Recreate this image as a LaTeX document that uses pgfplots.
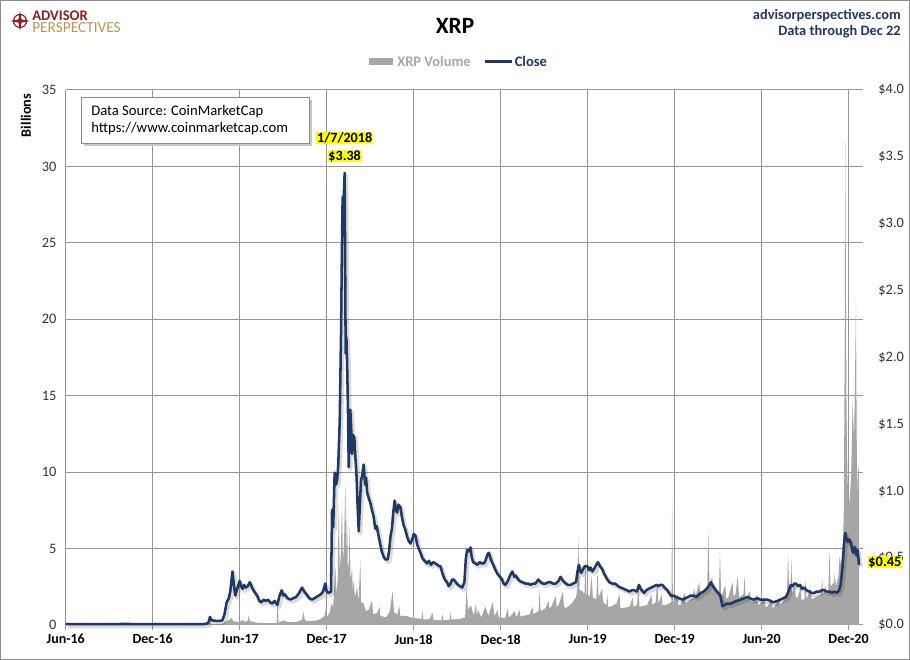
\documentclass[border=0pt]{standalone}
\usepackage{pgfplots}
\usepackage{pgfplotstable}
\pgfplotsset{compat=1.18}
\usepackage{fontspec}
\setmainfont{Carlito}
\definecolor{navy}{RGB}{31,56,100}
\definecolor{volgray}{RGB}{166,166,166}
\definecolor{gridgray}{RGB}{150,150,150}
\definecolor{apred}{RGB}{140,30,35}
\definecolor{apgold}{RGB}{185,150,80}
\definecolor{hl}{RGB}{255,255,0}
\definecolor{txt}{RGB}{50,50,50}

\pgfplotstableread{
m p
0 0.0065
2 0.0062
4 0.0075
6 0.0068
8 0.0065
9.5 0.007
9.7 0.009
9.85 0.02
9.95 0.06
10.05 0.035
10.3 0.032
10.6 0.03
10.8 0.035
10.95 0.08
11.1 0.17
11.25 0.2
11.35 0.25
11.5 0.40
11.6 0.30
11.7 0.22
11.85 0.28
12.0 0.33
12.1 0.29
12.2 0.27
12.3 0.30
12.4 0.28
12.55 0.29
12.7 0.32
12.85 0.28
13.0 0.25
13.2 0.22
13.35 0.18
13.5 0.17
13.65 0.19
13.8 0.18
13.95 0.19
14.1 0.17
14.25 0.16
14.4 0.18
14.6 0.15
14.75 0.22
14.9 0.26
15.0 0.22
15.1 0.23
15.3 0.20
15.5 0.19
15.7 0.20
15.9 0.21
16.1 0.24
16.3 0.28
16.45 0.25
16.6 0.23
16.8 0.20
17.0 0.19
17.15 0.20
17.3 0.21
17.45 0.22
17.6 0.23
17.75 0.25
17.9 0.31
18.0 0.25
18.15 0.24
18.3 0.25
18.37 0.86
18.45 0.73
18.55 1.14
18.65 1.05
18.72 1.08
18.8 1.2
18.9 1.53
18.99 2.18
19.05 2.8
19.1 3.2
19.17 3.18
19.24 3.38
19.31 2.03
19.36 2.15
19.41 1.96
19.47 1.6
19.52 1.18
19.57 1.45
19.63 1.61
19.7 1.45
19.75 1.28
19.83 1.42
19.91 1.40
19.98 1.25
20.05 1.14
20.13 0.9
20.21 0.70
20.29 0.9
20.37 1.08
20.45 1.12
20.55 1.20
20.65 1.05
20.72 1.1
20.79 0.99
20.9 0.95
21.02 0.91
21.12 0.86
21.24 0.81
21.35 0.72
21.45 0.74
21.59 0.66
21.7 0.6
21.8 0.55
21.93 0.51
22.05 0.49
22.21 0.49
22.3 0.55
22.4 0.66
22.5 0.72
22.6 0.85
22.69 0.93
22.77 0.86
22.86 0.84
22.95 0.9
23.09 0.88
23.2 0.8
23.3 0.75
23.43 0.71
23.55 0.66
23.65 0.63
23.78 0.61
23.9 0.64
24.0 0.68
24.12 0.67
24.25 0.6
24.35 0.57
24.47 0.54
24.6 0.5
24.75 0.48
24.93 0.46
25.05 0.48
25.2 0.45
25.35 0.47
25.5 0.46
25.65 0.45
25.75 0.44
25.85 0.44
26.0 0.38
26.15 0.34
26.3 0.32
26.42 0.29
26.55 0.31
26.65 0.34
26.77 0.34
26.9 0.32
27.05 0.30
27.2 0.29
27.35 0.28
27.5 0.32
27.6 0.5
27.69 0.56
27.8 0.55
27.92 0.58
28.0 0.51
28.1 0.47
28.27 0.46
28.4 0.45
28.55 0.47
28.7 0.46
28.84 0.46
28.95 0.48
29.1 0.53
29.19 0.54
29.3 0.5
29.4 0.47
29.53 0.44
29.65 0.41
29.8 0.38
29.95 0.36
30.1 0.34
30.2 0.31
30.33 0.30
30.5 0.33
30.65 0.37
30.8 0.40
30.95 0.36
31.05 0.37
31.15 0.35
31.3 0.33
31.5 0.32
31.72 0.31
31.9 0.31
32.07 0.30
32.25 0.31
32.4 0.31
32.6 0.34
32.76 0.32
32.9 0.31
33.1 0.31
33.3 0.32
33.44 0.32
33.6 0.31
33.8 0.31
34.0 0.33
34.13 0.36
34.3 0.33
34.5 0.31
34.65 0.30
34.83 0.30
35.0 0.31
35.2 0.32
35.3 0.40
35.4 0.45
35.5 0.40
35.57 0.39
35.7 0.42
35.8 0.44
35.98 0.44
36.1 0.41
36.2 0.43
36.33 0.40
36.45 0.42
36.6 0.45
36.71 0.47
36.85 0.44
37.0 0.42
37.15 0.38
37.36 0.34
37.5 0.32
37.7 0.31
37.9 0.31
38.1 0.29
38.28 0.28
38.5 0.27
38.7 0.26
38.9 0.25
39.05 0.26
39.2 0.26
39.4 0.25
39.54 0.30
39.65 0.27
39.89 0.24
40.05 0.26
40.2 0.27
40.4 0.28
40.58 0.29
40.75 0.30
40.9 0.29
41.0 0.30
41.16 0.30
41.3 0.28
41.5 0.26
41.74 0.22
41.9 0.22
42.1 0.21
42.3 0.20
42.54 0.19
42.75 0.20
42.95 0.21
43.1 0.22
43.34 0.22
43.5 0.21
43.8 0.24
44.0 0.25
44.2 0.27
44.35 0.29
44.5 0.32
44.65 0.29
44.84 0.26
45.0 0.24
45.15 0.22
45.3 0.14
45.45 0.15
45.6 0.16
45.88 0.16
46.05 0.17
46.3 0.18
46.57 0.19
46.8 0.20
47.03 0.21
47.2 0.20
47.4 0.19
47.72 0.20
47.9 0.19
48.1 0.19
48.41 0.19
48.6 0.18
48.8 0.17
49.1 0.18
49.3 0.19
49.5 0.20
49.68 0.21
49.85 0.25
50.02 0.30
50.15 0.29
50.25 0.31
50.37 0.31
50.5 0.29
50.65 0.30
50.8 0.27
50.94 0.28
51.1 0.26
51.3 0.25
51.45 0.24
51.63 0.24
51.8 0.25
52.0 0.25
52.15 0.26
52.32 0.26
52.5 0.25
52.7 0.25
52.85 0.24
53.01 0.25
53.2 0.24
53.35 0.26
53.45 0.30
53.52 0.37
53.59 0.44
53.68 0.60
53.77 0.69
53.85 0.65
53.94 0.62
54.05 0.64
54.17 0.61
54.25 0.56
54.32 0.54
54.4 0.58
54.46 0.58
54.55 0.52
54.62 0.56
54.68 0.50
54.72 0.45
}\pricedata

\pgfplotstableread{
m v
0 0.003
9.5 0.01
9.85 0.04
9.95 0.18
10.05 0.05
10.8 0.08
11.0 0.2
11.2 0.3
11.45 0.45
11.55 0.25
11.9 0.2
12.1 0.25
12.2 0.35
12.3 0.22
12.55 0.25
12.62 0.65
12.7 0.25
13.2 0.15
13.6 0.12
14.0 0.12
14.55 0.12
14.62 1.7
14.68 0.15
15.0 0.3
15.3 0.2
15.6 0.18
16.0 0.22
16.3 0.35
16.4 0.87
16.5 0.3
16.9 0.25
17.3 0.3
17.6 0.4
17.85 0.6
17.92 1.0
18.0 0.5
18.2 0.8
18.33 1.4
18.45 1.2
18.6 3.8
18.68 2.0
18.76 3.0
18.83 8.0
18.9 3.5
18.97 4.5
19.06 8.1
19.12 4.0
19.2 5.5
19.29 9.3
19.34 4.5
19.4 7.7
19.46 3.5
19.53 4.2
19.59 6.4
19.65 2.8
19.75 3.8
19.8 2.2
19.86 2.9
19.95 1.8
20.1 2.5
20.2 1.5
20.32 4.25
20.38 1.5
20.55 1.4
20.7 0.9
20.9 1.0
21.13 1.6
21.2 0.7
21.5 0.8
21.65 1.2
21.7 0.6
22.1 0.5
22.35 0.9
22.55 2.2
22.65 0.8
22.9 0.7
23.0 1.3
23.08 0.6
23.5 0.6
23.8 0.5
24.1 0.45
24.55 0.4
24.6 0.95
24.66 0.4
24.8 0.35
25.1 0.4
25.3 0.8
25.36 0.35
25.9 0.3
26.0 0.7
26.05 0.3
26.5 0.35
26.55 0.9
26.6 0.35
27.2 0.4
27.55 0.5
27.65 2.5
27.75 1.0
27.95 1.3
28.15 0.6
28.3 1.4
28.36 0.6
28.45 1.0
28.65 0.5
28.95 1.2
29.15 0.6
29.45 1.5
29.58 0.6
29.8 1.0
29.86 0.5
30.3 0.45
30.5 1.1
30.56 0.5
30.7 0.6
30.95 0.9
31.1 0.5
31.3 1.0
31.36 0.55
31.6 0.6
32.0 0.7
32.2 1.2
32.26 0.7
32.4 0.8
32.62 0.9
32.68 2.3
32.76 0.9
33.1 1.1
33.3 1.6
33.36 1.1
33.5 1.2
33.8 1.9
33.86 1.2
34.0 1.3
34.3 2.2
34.36 1.2
34.5 1.1
34.9 1.4
35.2 1.8
35.3 2.5
35.36 5.8
35.43 2.3
35.65 2.2
35.78 2.0
35.85 4.25
35.92 2.0
36.15 1.9
36.28 3.2
36.36 1.8
36.6 1.7
36.68 3.6
36.76 1.8
37.0 2.4
37.06 1.5
37.3 1.3
37.36 2.0
37.42 1.2
37.6 1.2
38.0 1.4
38.2 2.0
38.26 1.1
38.4 1.1
38.9 1.2
39.1 1.8
39.16 1.2
39.4 1.3
39.5 2.3
39.58 1.2
40.1 1.3
40.4 2.0
40.46 1.3
40.7 1.5
40.8 2.9
40.88 1.4
41.1 2.0
41.16 1.3
41.4 1.3
41.78 1.5
41.83 8.5
41.88 1.5
42.2 2.0
42.26 1.3
42.4 1.3
42.7 2.1
42.76 1.4
42.9 1.5
43.25 1.8
43.35 2.4
43.45 1.9
43.7 2.8
43.76 2.0
43.9 2.2
44.25 2.5
44.33 6.2
44.41 2.5
44.6 3.2
44.66 2.3
44.8 2.4
45.05 2.0
45.13 4.9
45.21 1.8
45.5 2.6
45.56 1.7
45.7 1.8
46.0 2.8
46.06 1.9
46.2 2.0
46.35 3.2
46.45 1.8
46.75 2.0
46.82 3.2
46.9 1.7
47.2 2.2
47.26 1.5
47.4 1.5
47.7 2.0
47.76 1.3
47.9 1.4
48.2 1.8
48.26 1.2
48.4 1.2
48.7 1.7
48.76 1.1
48.9 1.2
49.2 1.8
49.26 1.3
49.4 1.4
49.75 2.0
49.82 4.7
49.9 2.2
50.0 2.6
50.05 4.4
50.12 2.0
50.3 2.6
50.36 1.8
50.5 1.8
50.7 2.5
50.76 1.6
50.95 1.7
51.03 2.9
51.1 1.7
51.4 2.4
51.46 1.7
51.7 1.8
52.1 2.0
52.18 3.0
52.25 1.9
52.4 2.6
52.46 2.0
52.6 2.2
52.68 4.9
52.76 2.5
53.0 2.8
53.05 3.4
53.12 2.5
53.3 3.2
53.38 4.5
53.45 4.0
53.55 4.5
53.62 5.3
53.68 8.0
53.74 20.0
53.77 31.7
53.81 24.0
53.85 15.1
53.92 9.9
54.0 7.6
54.1 8.5
54.18 9.9
54.28 14.7
54.38 12.0
54.47 18.0
54.51 21.4
54.56 12.3
54.62 8.0
54.66 10.5
54.72 9.9
}\voldata

\begin{document}
\begin{tikzpicture}
\useasboundingbox (0,0) rectangle (682.5pt,495pt);

\begin{axis}[
  at={(49.3pt,26.25pt)}, anchor=south west,
  width=598pt, height=401.25pt, scale only axis,
  xmin=0, xmax=55, ymin=0, ymax=35,
  axis lines*=left,
  axis line style={gridgray, line width=0.75pt, -},
  xtick={0,6,...,54},
  xticklabels={Jun-16,Dec-16,Jun-17,Dec-17,Jun-18,Dec-18,Jun-19,Dec-19,Jun-20,Dec-20},
  ytick={0,5,...,35},
  grid=major,
  major grid style={gridgray, line width=0.75pt},
  tick align=outside, major tick length=3.5pt,
  xtick style={gridgray, line width=0.75pt},
  ytick style={draw=none},
  /pgf/number format/assume math mode=true,
  xticklabel style={font=\bfseries\fontsize{10.5}{12}\selectfont, text=black},
  yticklabel style={font=\fontsize{10.8}{12}\selectfont, text=txt},
]
\addplot[fill=volgray, draw=none] table[x=m,y=v]{\voldata} \closedcycle;
\end{axis}

\begin{axis}[
  at={(49.3pt,26.25pt)}, anchor=south west,
  width=598pt, height=401.25pt, scale only axis,
  xmin=0, xmax=55, ymin=0, ymax=4,
  axis y line*=right, axis x line=none,
  axis line style={draw=none},
  ytick={0,0.5,1,1.5,2,2.5,3,3.5,4},
  yticklabels={\$0.0,\$0.5,\$1.0,\$1.5,\$2.0,\$2.5,\$3.0,\$3.5,\$4.0},
  ytick style={draw=none},
  yticklabel style={font=\fontsize{10.8}{12}\selectfont, text=txt, xshift=8pt},
  clip=false,
]
\addplot[black, opacity=0.14, line width=2.8pt, xshift=1.4pt, yshift=-1.8pt, line join=round] table[x=m,y=p]{\pricedata};
\addplot[navy, line width=1.9pt, line join=round] table[x=m,y=p]{\pricedata};
\node[font=\bfseries\fontsize{10.6}{12}\selectfont, fill=hl, inner sep=0.6pt] at (axis cs:19.24,3.38) [yshift=26.2pt] {1/7/2018};
\node[font=\bfseries\fontsize{10.6}{12}\selectfont, fill=hl, inner sep=0.6pt] at (axis cs:19.24,3.38) [yshift=12.7pt] {\$3.38};
\node[font=\bfseries\fontsize{10.8}{12}\selectfont, fill=hl, inner sep=0.6pt, anchor=west] at (axis cs:55,0.45) [xshift=3.2pt, yshift=2pt] {\$0.45};
\end{axis}

\begin{scope}[x=0.75pt, y=-0.75pt, yshift=495pt]
  \draw[black!45, line width=0.75pt] (0.5,0.5) rectangle (909.5,659.5);
  % logo
  \draw[apred, line width=0.9pt] (20,21) circle (6.5);
  \fill[apred] (20,11)--(21.6,19.4)--(30,21)--(21.6,22.6)--(20,31)--(18.4,22.6)--(10,21)--(18.4,19.4)--cycle;
  \node[anchor=west, inner sep=0, font=\bfseries\fontsize{11}{12}\selectfont, text=apred] at (32,15.5) {ADVISOR};
  \node[anchor=west, inner sep=0, font=\fontsize{11.5}{12}\selectfont, text=apgold] at (32,27.5) {PERSPECTIVES};
  % title
  \node[font=\bfseries\fontsize{17.5}{20}\selectfont] at (455,26) {XRP};
  \node[anchor=east, inner sep=0, font=\bfseries\fontsize{10.8}{12}\selectfont, text=navy] at (901,15.5) {advisorperspectives.com};
  \node[anchor=east, inner sep=0, font=\bfseries\fontsize{10.8}{12}\selectfont, text=navy] at (901,32) {Data through Dec 22};
  % legend
  \fill[volgray] (368.5,58.5) rectangle (393,65.5);
  \node[anchor=west, inner sep=0, font=\bfseries\fontsize{10.9}{12}\selectfont, text=volgray] at (397,61.7) {XRP Volume};
  \draw[navy, line width=2pt] (485,61.7) -- (512,61.7);
  \node[anchor=west, inner sep=0, font=\bfseries\fontsize{10.9}{12}\selectfont, text=navy] at (514.5,61.7) {Close};
  % y label
  \node[rotate=90, font=\bfseries\fontsize{10.7}{12}\selectfont] at (26,115.5) {Billions};
  % source box
  \fill[black!22] (84,100) rectangle (312,146.5);
  \draw[black!45, fill=white, line width=0.6pt] (81,97) rectangle (309,143);
  \node[anchor=west, inner sep=0, font=\fontsize{11}{12}\selectfont] at (91,112) {Data Source: CoinMarketCap};
  \node[anchor=west, inner sep=0, font=\fontsize{11}{12}\selectfont] at (91,129) {https://www.coinmarketcap.com};
\end{scope}
\end{tikzpicture}
\end{document}
